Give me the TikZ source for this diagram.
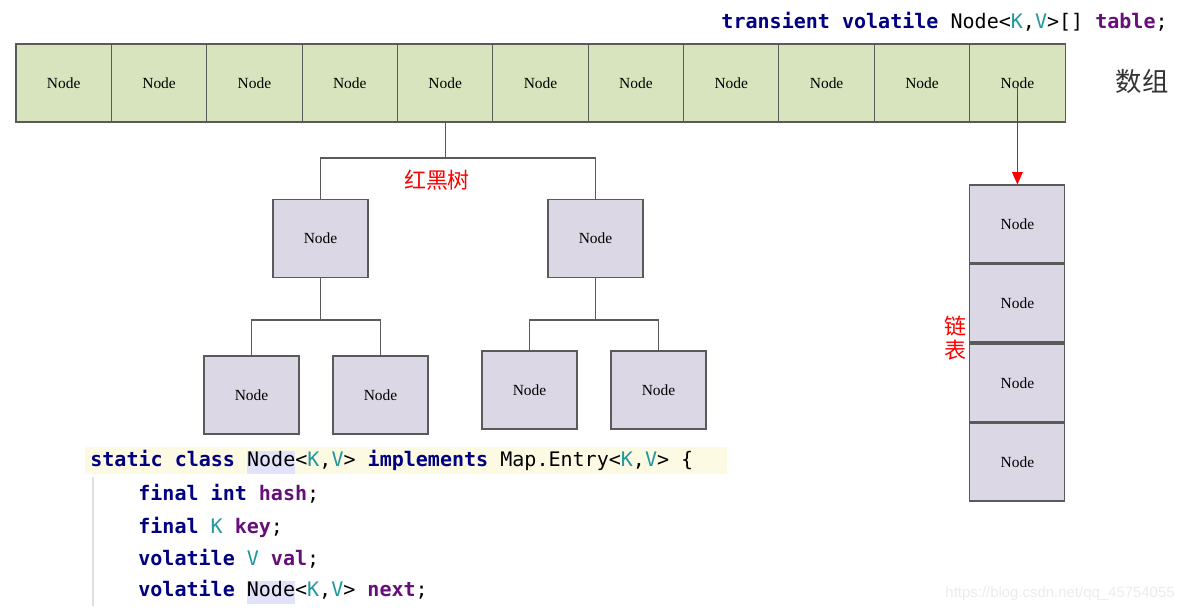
\documentclass[tikz,border=0pt]{standalone}
\usepackage{fontspec}
\setmainfont{Liberation Serif}
\newfontfamily\codefont{DejaVu Sans Mono}
\newfontfamily\cjk{Noto Sans CJK SC}
\newfontfamily\wmfont{Liberation Sans}
\usetikzlibrary{arrows.meta}

\definecolor{kwblue}{RGB}{0,0,128}
\definecolor{fieldpurple}{RGB}{102,14,122}
\definecolor{typeteal}{RGB}{32,153,157}
\definecolor{arrayfill}{RGB}{215,228,189}
\definecolor{treefill}{RGB}{220,215,228}
\definecolor{boxline}{RGB}{90,90,90}
\definecolor{lineyellow}{RGB}{252,250,227}
\definecolor{hlnode}{RGB}{226,226,250}

\newcommand\kw[1]{\textcolor{kwblue}{\bfseries #1}}
\newcommand\fld[1]{\textcolor{fieldpurple}{\bfseries #1}}
\newcommand\tv[1]{\textcolor{typeteal}{#1}}
\newcommand\hlbox[1]{{\setlength\fboxsep{0pt}\colorbox{hlnode}{\strut #1}}}

\begin{document}
\begin{tikzpicture}[
  x=0.02cm, y=-0.02cm,
  every node/.style={inner sep=0pt},
  cell/.style={draw=boxline,fill=arrayfill,line width=0.6pt,minimum width=1.908cm,minimum height=1.56cm,font=\fontsize{8.8}{10}\selectfont},
  tnode/.style={draw=boxline,fill=treefill,line width=0.6pt,minimum width=1.9cm,minimum height=1.56cm,font=\fontsize{8.8}{10}\selectfont},
  link/.style={draw=boxline,line width=0.6pt},
  ptr/.style={-{Triangle[width=6pt,length=7pt]},red,line width=0.7pt},
  code/.style={font=\codefont\fontsize{11.4}{13}\selectfont,anchor=west},
  tag/.style={font=\cjk\fontsize{12.5}{15}\selectfont,text=red},
]
\useasboundingbox (0,0) rectangle (1183,612);

% ---- Field declaration (top right)
\node[code,anchor=east] (decl) at (1168,22) {\kw{transient volatile} Node<\tv{K},\tv{V}>[] \fld{table};};

% ---- Array (A1..A11)
\node[cell] (A1)  at (63.7,83)  {Node};
\node[cell] (A2)  at (159.1,83) {Node};
\node[cell] (A3)  at (254.4,83) {Node};
\node[cell] (A4)  at (349.8,83) {Node};
\node[cell] (A5)  at (445.2,83) {Node};
\node[cell] (A6)  at (540.5,83) {Node};
\node[cell] (A7)  at (635.9,83) {Node};
\node[cell] (A8)  at (731.3,83) {Node};
\node[cell] (A9)  at (826.6,83) {Node};
\node[cell] (A10) at (922.0,83) {Node};
\node[cell] (A11) at (1017.4,83) {Node};
\node[font=\cjk\fontsize{15}{18}\selectfont,text=black!80] (arr) at (1142,82) {数组};

% ---- Red-black tree
\node[tnode] (R1) at (320.5,238.5) {Node};
\node[tnode] (R2) at (595.5,238.5) {Node};
\node[tnode] (L1) at (251.5,395) {Node};
\node[tnode] (L2) at (380.5,395) {Node};
\node[tnode] (L3) at (529.5,390) {Node};
\node[tnode] (L4) at (658.5,390) {Node};
\node[tag] (rbt) at (437,180) {红黑树};

\coordinate (b0) at (445.2,158);
\coordinate (b1) at (320.5,320);
\coordinate (b2) at (595.5,320);
\draw[link] (A5.south) -- (b0);
\draw[link] (b0) -| (R1.north);
\draw[link] (b0) -| (R2.north);
\draw[link] (R1.south) -- (b1);
\draw[link] (b1) -| (L1.north);
\draw[link] (b1) -| (L2.north);
\draw[link] (R2.south) -- (b2);
\draw[link] (b2) -| (L3.north);
\draw[link] (b2) -| (L4.north);

% ---- Linked list (N1..N4)
\node[tnode] (N1) at (1017.4,224) {Node};
\node[tnode] (N2) at (1017.4,303) {Node};
\node[tnode] (N3) at (1017.4,383) {Node};
\node[tnode] (N4) at (1017.4,462) {Node};
\node[tag,align=center] (lst) at (955,338) {链\\[-1pt]表};
\draw[ptr] (A11.center) -- (N1.north);

% ---- Node class source
\fill[lineyellow] (85,447) rectangle (727,474);
\draw[gray!25,line width=0.8pt] (93,477) -- (93,606);
\node[code] (c1) at (90,462) {\kw{static class} \hlbox{Node}<\tv{K},\tv{V}> \kw{implements} Map.Entry<\tv{K},\tv{V}> \{};
\node[code] (c2) at (138,494) {\kw{final int} \fld{hash};};
\node[code] (c3) at (138,527) {\kw{final} \tv{K} \fld{key};};
\node[code] (c4) at (138,559) {\kw{volatile} \tv{V} \fld{val};};
\node[code] (c5) at (138,592) {\kw{volatile} \hlbox{Node}<\tv{K},\tv{V}> \fld{next};};

% ---- Watermark
\node[font=\wmfont\fontsize{8.5}{10}\selectfont,text=black!8,anchor=east] (wm) at (1175,594) {https://blog.csdn.net/qq\_45754055};

\end{tikzpicture}
\end{document}
